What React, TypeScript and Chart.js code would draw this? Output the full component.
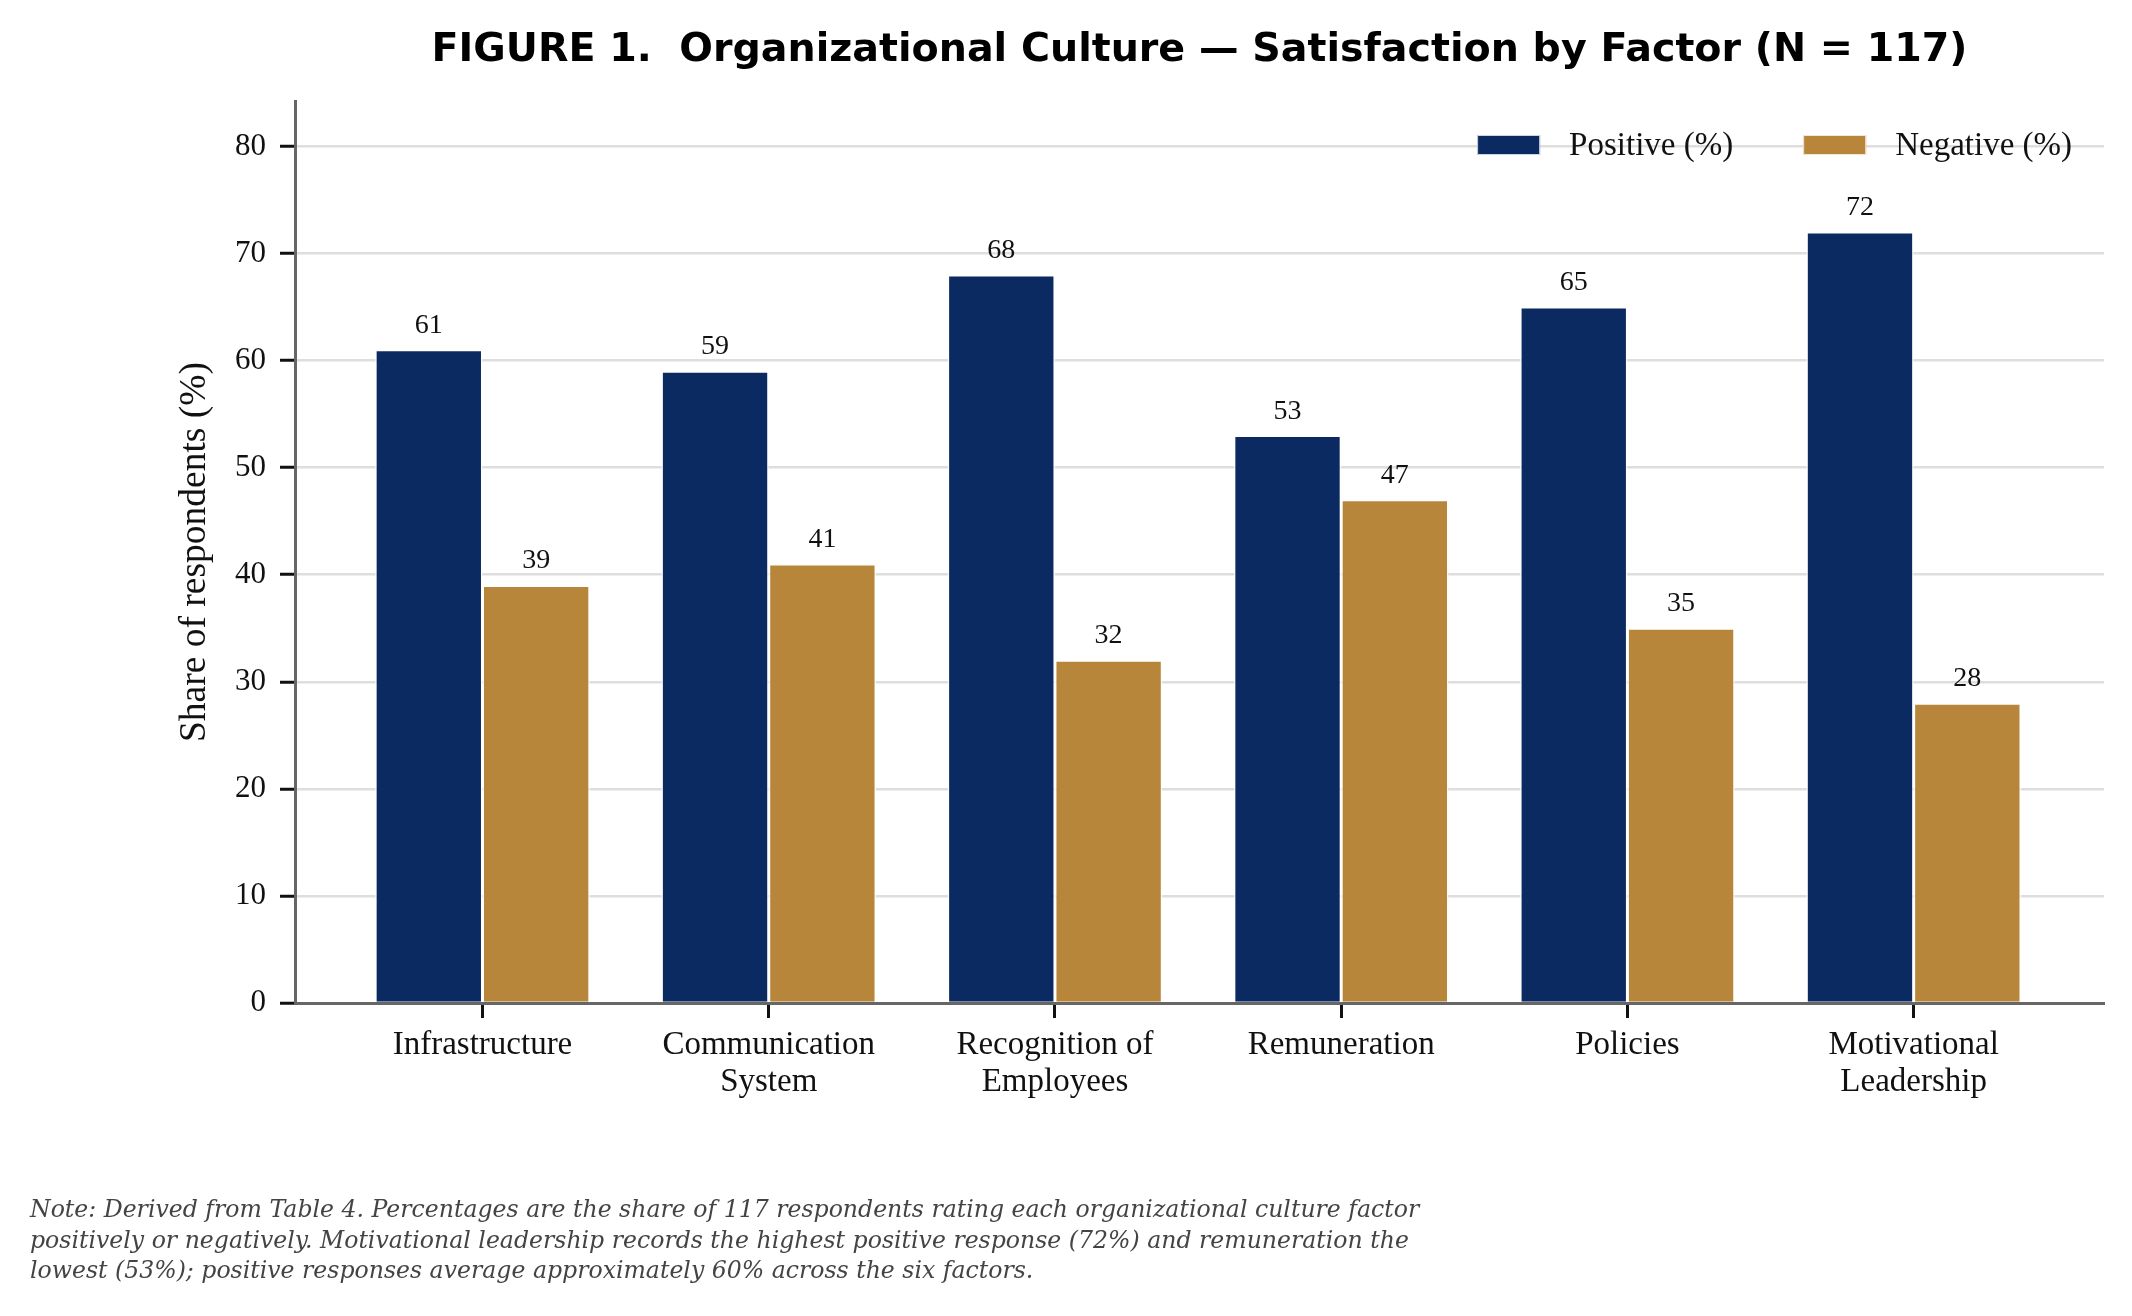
import { useEffect, useRef } from 'react';
import { Chart, registerables, type Plugin } from 'chart.js';

Chart.register(...registerables);

// data
const categories = [
  'Infrastructure',
  'Communication\nSystem',
  'Recognition of\nEmployees',
  'Remuneration',
  'Policies',
  'Motivational\nLeadership',
];
const positive = [61, 59, 68, 53, 65, 72];
const negative = [39, 41, 32, 47, 35, 28];
const seriesNames = ['Positive (%)', 'Negative (%)'];
const seriesColors = ['#0b2a62', '#b8863b'];

const TITLE = 'FIGURE 1.  Organizational Culture \u2014 Satisfaction by Factor (N = 117)';
const noteLines = [
  'Note: Derived from Table 4. Percentages are the share of 117 respondents rating each organizational culture factor',
  'positively or negatively. Motivational leadership records the highest positive response (72%) and remuneration the',
  'lowest (53%); positive responses average approximately 60% across the six factors.',
];

const SERIF = '"Liberation Serif", "Times New Roman", serif';

const figureBits: Plugin<'bar'> = {
  id: 'figureBits',
  afterDatasetsDraw: (chart) => {
    const { ctx } = chart;
    ctx.save();
    ctx.font = `28px ${SERIF}`;
    ctx.fillStyle = '#111';
    ctx.textAlign = 'center';
    ctx.textBaseline = 'alphabetic';
    chart.data.datasets.forEach((ds, di) => {
      const meta = chart.getDatasetMeta(di);
      meta.data.forEach((bar, i) => {
        const v = (ds.data[i] as any).y;
        ctx.fillText(String(v), bar.x, bar.y - 17);
      });
    });
    ctx.restore();
  },
  afterDraw: (chart) => {
    const { ctx, chartArea } = chart;
    ctx.save();

    // title
    ctx.font = `bold 39.6px "DejaVu Sans"`;
    ctx.fillStyle = '#000';
    ctx.textAlign = 'center';
    ctx.textBaseline = 'alphabetic';
    ctx.fillText(TITLE, (chartArea.left + chartArea.right) / 2, 61);

    // legend, top right inside the plot
    ctx.font = `33px ${SERIF}`;
    ctx.textAlign = 'left';
    ctx.textBaseline = 'middle';
    const widths = chart.data.datasets.map((ds) => ctx.measureText(String(ds.label)).width);
    const total = widths.reduce((a, w) => a + 63 + 29 + w, 0) + 70 * (widths.length - 1);
    let x = chartArea.right - 32 - total;
    const yc = 145;
    chart.data.datasets.forEach((ds, i) => {
      ctx.fillStyle = ds.backgroundColor as string;
      ctx.fillRect(x, yc - 10, 63, 20);
      ctx.strokeStyle = 'rgba(255,255,255,0.8)';
      ctx.lineWidth = 1;
      ctx.strokeRect(x + 0.5, yc - 9.5, 62, 19);
      ctx.fillStyle = '#111';
      ctx.fillText(String(ds.label), x + 92, yc + 1);
      x += 92 + widths[i] + 70;
    });

    // note
    ctx.font = `italic 23.6px "DejaVu Serif"`;
    ctx.fillStyle = '#444';
    ctx.textBaseline = 'alphabetic';
    noteLines.forEach((line, i) => {
      ctx.fillText(line, 30, 1217 + i * 30.5);
    });
    ctx.restore();
  },
};

const App = () => {
  const canvasRef = useRef<HTMLCanvasElement | null>(null);
  const chartRef = useRef<Chart<'bar'> | null>(null);

  useEffect(() => {
    document.body.style.margin = '0';
    if (!canvasRef.current) return;

    const series = [positive, negative];

    chartRef.current?.destroy();
    chartRef.current = new Chart(canvasRef.current, {
      type: 'bar',
      data: {
        datasets: series.map((vals, si) => ({
          label: seriesNames[si],
          data: vals.map((v, i) => ({ x: i, y: v })),
          backgroundColor: seriesColors[si],
          borderColor: 'rgba(255,255,255,0.85)',
          borderWidth: 1.5,
          categoryPercentage: 0.75,
          barPercentage: 1,
        })),
      },
      options: {
        animation: false,
        responsive: false,
        devicePixelRatio: 1,
        layout: { padding: { top: 101, right: 28, bottom: 0, left: 0 } },
        plugins: {
          legend: { display: false },
          title: { display: false },
          tooltip: { enabled: false },
        },
        scales: {
          x: {
            type: 'linear',
            offset: false,
            min: -0.655,
            max: 5.665,
            afterFit: (s) => {
              s.height = 313;
            },
            ticks: {
              stepSize: 1,
              includeBounds: false,
              autoSkip: false,
              maxRotation: 0,
              color: '#111',
              padding: 9,
              font: { family: SERIF, size: 33, lineHeight: 1.12 },
              callback: (v) => {
                const n = Number(v);
                return Number.isInteger(n) && categories[n] ? categories[n].split('\n') : '';
              },
            },
            grid: { offset: false, drawOnChartArea: false, tickLength: 15, tickWidth: 3, tickColor: '#111' },
            border: { color: '#666', width: 3 },
          },
          y: {
            min: 0,
            max: 84.24,
            afterFit: (s) => {
              s.width = 295;
            },
            ticks: {
              stepSize: 10,
              includeBounds: false,
              color: '#111',
              padding: 14,
              font: { family: SERIF, size: 31 },
            },
            grid: { color: '#dedede', lineWidth: 2.5, tickLength: 15, tickWidth: 3, tickColor: '#111' },
            border: { color: '#666', width: 3 },
            title: {
              display: true,
              text: 'Share of respondents (%)',
              color: '#111',
              font: { family: SERIF, size: 37.5, lineHeight: 1.2 },
              padding: { top: 173, bottom: 0 },
            },
          },
        },
      },
      plugins: [figureBits],
    });

    return () => {
      chartRef.current?.destroy();
      chartRef.current = null;
    };
  }, []);

  return <canvas ref={canvasRef} width={2132} height={1316} style={{ display: 'block' }} />;
};

export default App;
